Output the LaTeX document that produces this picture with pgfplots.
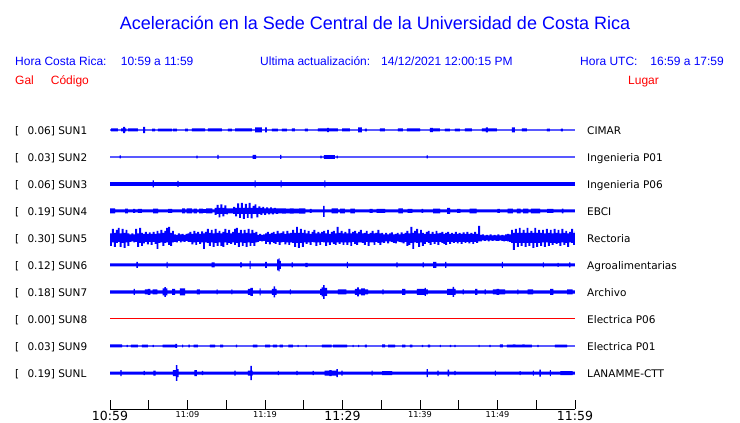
\documentclass[border=0pt]{standalone}
\usepackage{pgfplots}
\pgfplotsset{compat=1.18}
\usepackage{pgfplotstable}
\usepgfplotslibrary{fillbetween}
\usepackage{fontspec}
\setmainfont{Liberation Sans}
\newfontfamily\dejavu{DejaVu Sans}

% ---- trace envelopes: t = minutes after 10:59, a = half amplitude (px) ----
\pgfplotstableread{
t a
0 0.7
0.13 1.5
1.03 0.7
1.42 1.5
1.68 3.2
1.94 1.5
2.1 0.7
2.32 1.5
3.61 0.7
4.26 3.2
4.52 0.7
5.42 1.3
5.81 0.7
6.19 1.3
8.0 0.7
8.13 1.3
8.64 0.7
9.68 1.3
10.06 0.7
10.58 1.5
12.26 0.7
12.64 1.5
14.45 0.7
15.22 1.3
15.74 0.7
16.13 1.5
18.32 0.7
18.71 2.5
19.61 0.7
20.0 2.5
20.25 0.7
20.9 1.3
21.67 0.7
22.19 1.3
22.83 0.7
23.48 1.5
23.87 0.7
25.16 1.3
25.54 0.7
26.83 1.5
28.0 2.2
28.25 1.5
29.41 0.7
29.94 1.5
30.96 0.7
32.0 2.5
32.5 0.7
32.9 1.3
33.15 0.7
34.83 1.5
35.48 0.7
37.15 1.5
37.8 0.7
38.3 1.5
40.0 0.7
41.28 2.2
41.67 1.5
42.57 0.7
43.2 1.3
43.86 0.7
44.5 1.3
45.15 0.7
45.8 1.5
46.7 0.7
48.0 1.5
48.5 2.5
48.76 1.5
49.92 0.7
51.86 2.5
52.25 0.7
53.15 1.5
53.8 0.7
56.37 1.3
56.76 0.7
58.18 1.3
58.44 0.7
60 0.7
}\sunA

\pgfplotstableread{
t a
0 0.6
1.25 1.5
1.4 0.6
11.15 1.3
11.3 0.6
13.85 2
14.0 0.6
18.4 2
18.85 0.6
21.95 2
22.1 0.6
27.15 1.3
27.3 0.6
27.6 1.8
29.0 0.6
29.25 1.3
29.4 0.6
40.85 1.5
41.0 0.6
60 0.6
}\sunB

\pgfplotstableread{
t a
0 1.9
5.5 3.5
5.65 1.9
8.7 3.0
8.85 1.9
18.65 3.5
18.8 1.9
22.0 3.5
22.15 1.9
27.65 3.5
27.8 1.9
60 1.9
}\sunC

\pgfplotstableread{
t u d
0 2.5 2.5
0.65 1.5 1.5
1.94 2.3 2.3
2.32 1.5 1.5
2.97 2 2
3.23 1.5 1.5
3.6 2 2
4.1 1.5 1.5
5.55 2.3 2.3
6.2 1.5 1.5
7.5 2 2
8.0 1.5 1.5
9.3 2.5 2.5
9.7 1.5 1.5
9.9 2.5 2.5
10.6 1.5 1.5
10.8 2.3 2.3
11.2 1.5 1.5
11.5 2.3 2.3
12.0 1.8 1.8
12.4 2.5 2.5
13.2 1.5 1.5
13.5 3 4
13.75 6 3
14.0 3 6.5
14.25 6.5 3
14.5 3 5.5
14.75 5.5 3
15.0 2.5 3.5
15.2 2.5 2.5
15.9 4 3
16.15 3 5.5
16.4 7.5 3
16.65 3 7
16.9 8 3
17.15 3 8
17.4 7 3
17.65 3 7
17.9 8 3
18.15 3 7.5
18.4 5 3
18.65 6.5 3
18.9 3 6.5
19.15 4.5 3
19.4 3 4
19.65 4 2.5
19.9 2.5 4
20.15 3.5 2.5
20.4 2.5 3.5
20.65 3.5 2.5
20.9 2.5 3.5
21.15 3 2.5
21.4 2.5 3
21.7 2.5 2.5
22.2 2.7 2.7
22.7 2.3 2.3
23.2 2.7 2.7
23.7 2.3 2.3
24.4 2.7 2.7
25.2 1.5 1.5
25.8 2 2
26.0 1.5 1.5
27.5 5 6
27.7 1.5 1.5
28.6 2.5 2.5
29.4 1.5 1.5
29.7 2.3 2.3
30.3 1.5 1.5
31.0 2.3 2.3
31.6 1.5 1.5
33.5 2 2
33.9 1.5 1.5
34.4 2 2
35.5 1.5 1.5
37.2 2.5 2.5
37.8 1.5 1.5
38.4 2 2
39.0 1.5 1.5
40.2 2 2
40.4 1.5 1.5
41.7 2.3 2.3
42.6 1.5 1.5
43.5 3 3
43.9 1.5 1.5
44.8 2 2
45.2 1.5 1.5
46.4 2.3 2.3
47.3 1.5 1.5
50.0 2 2
50.3 1.5 1.5
51.3 2.3 2.3
52.0 1.5 1.5
52.5 2.3 2.3
53.0 1.5 1.5
53.3 2.3 2.3
54.0 1.5 1.5
54.3 2.3 2.3
55.5 1.5 1.5
56.4 2 2
57.2 1.5 1.5
58.3 2.3 2.3
58.5 1.5 1.5
60 1.5 1.5
}\sunD

\pgfplotstableread{
t u d
0 4.5 8
0.25 9 4.5
0.5 5 9
0.75 8 5
1 10 4
1.25 4.5 9
1.5 9 5
1.75 5 10
2 8 4.5
2.25 4.5 8
2.5 3.5 4
2.75 4.5 3.5
3 3.5 4.5
3.25 9 4
3.5 4.5 9
3.75 10 5
4 5 8
4.25 4 5.5
4.5 6 4
4.75 4 6.5
5 5.5 4
5.25 4 7
5.5 6 4
5.75 4 6
6 7 11
6.25 4.5 5
6.5 8 4.5
6.75 5 8
7 7 5
7.25 10 4.5
7.5 11 7
7.75 5 8
8 7 4.5
8.25 3.5 4
8.5 3 4.5
8.75 4.5 3
9 3.5 4.5
9.25 4 3.5
9.5 3 4
9.75 4 3
10 4.5 4
10.25 6 4
10.5 4 6.5
10.75 7 4.5
11 4.5 7
11.25 6 4
11.5 4 6
11.75 6.5 4.5
12 4.5 11
12.25 6 4.5
12.5 9 5
12.75 5 8
13 8 4.5
13.25 4.5 9
13.5 9 5
13.75 5 8
14 7 4.5
14.25 4.5 8
14.5 6 9
14.75 9 4.5
15 5 7
15.25 8 5
15.5 4.5 6
15.75 6 4.5
16 9 7
16.25 10 5
16.5 5 9
16.75 8 4.5
17 4.5 8
17.25 8 5
17.5 5 9
17.75 9 4.5
18 4.5 8
18.25 8 5
18.5 5 8
18.75 6 4.5
19 3 4
19.25 4 3
19.5 3 3.5
19.75 3.5 3
20 4.5 6
20.25 6 4
20.5 4 6.5
20.75 5 4
21 6 5
21.25 4 6
21.5 7 4
21.75 4.5 7
22 5 4.5
22.25 6.5 4
22.5 4 6.5
22.75 7 4.5
23 4.5 7
23.25 5 4.5
23.5 8 5
23.75 5 9
24 11 5
24.25 5 10
24.5 9 5
24.75 5 9
25 8 4.5
25.25 4.5 6
25.5 7 4.5
25.75 4 7
26 6 4
26.25 8 4.5
26.5 4.5 8
26.75 6 4.5
27 4.5 7
27.25 6 4
27.5 7 4.5
27.75 4.5 8
28 8 4.5
28.25 4 7
28.5 6 4.5
28.75 7 6
29 4.5 7
29.25 11 4.5
29.5 5 6
29.75 7 4.5
30 4.5 7
30.25 6 4.5
30.5 4.5 7
30.75 9 4.5
31 4.5 8
31.25 6 4
31.5 7 6
31.75 4.5 7
32 6 4.5
32.25 8 4.5
32.5 4.5 5
32.75 5 7
33 7 4
33.25 4 8
33.5 5 4.5
33.75 7 4.5
34 4.5 7
34.25 5 4
34.5 8 5
34.75 4.5 7
35 5 4.5
35.25 3.5 5
35.5 5 3.5
35.75 3.5 5.5
36 4.5 3.5
36.25 5.5 4
36.5 3.5 5
36.75 4 5.5
37 5 3.5
37.25 3.5 4
37.5 5.5 4.5
37.75 4 5.5
38 5 4
38.25 7 8
38.5 4.5 7
38.75 11 5
39 5 11
39.25 7 4.5
39.5 9 5
39.75 4.5 9
40 8 4.5
40.25 5 8
40.5 4 6
40.75 6 4
41 7 5
41.25 4 7
41.5 6 4
41.75 4 6
42 7 4
42.25 4.5 7
42.5 5 4
42.75 6 5
43 4 6
43.25 5 7
43.5 6 4
43.75 4 6
44 5 4
44.25 4 5
44.5 6 4
44.75 4 5.5
45 5 4
45.25 4 6
45.5 5.5 4
45.75 4 5
46 6 4
46.25 4 5.5
46.5 5 4
46.75 4 6
47 6 4
47.25 4 5
47.5 12 3.5
47.75 3 3.5
48 3.5 2.5
48.25 2.5 3
48.5 3 2.5
48.75 2.5 3.5
49 3.5 2.5
49.25 2.5 3
49.5 3 2.5
49.75 2.5 3
50 3.5 3
50.25 2.5 2.5
50.5 3 3
50.75 2.5 3.5
51 3.5 3
51.25 4 3.5
51.5 3.5 4
51.75 8 5
52 5 12
52.25 9 5
52.5 5 9
52.75 10 5
53 5 8
53.25 8 5
53.5 5 9
53.75 10 5
54 5 8
54.25 7 5
54.5 5 10
54.75 10 5
55 5 9
55.25 8 5
55.5 5 8
55.75 8 4.5
56 4.5 9
56.25 9 4.5
56.5 5 8
56.75 8 5
57 4.5 7
57.25 9 5
57.5 5 6
57.75 8 5
58 4.5 8
58.25 9 4.5
58.5 5 7
58.75 7 5
59 4.5 9
59.25 6 4.5
59.5 9 5
59.75 5 7
60 7 5
}\sunE

\pgfplotstableread{
t a
0 1.5
3.4 3
3.6 1.5
7.3 3
7.45 1.5
13.1 2.5
13.5 1.5
16.8 2.5
17.0 1.5
18.0 4
18.15 1.5
20.0 3
20.25 1.5
21.55 5.5
21.75 6.5
21.9 4
22.05 1.5
23.45 2.5
23.6 1.5
25.2 2.2
25.5 1.5
30.55 3
30.7 1.5
36.95 2.5
37.1 1.5
40.35 2.5
40.5 1.5
41.7 3
42.1 1.5
43.25 3
43.4 1.5
50.55 3
50.7 1.5
55.85 2.5
56.0 1.5
57.75 2
57.9 1.5
59.25 2.5
59.4 1.5
60 1.5
}\sunF

\pgfplotstableread{
t a
0 1.7
3.05 3
3.2 1.7
4.5 2.5
4.9 3
5.2 1.7
5.5 2.5
6.1 1.7
6.8 3.5
7.0 4.8
7.2 3.5
7.4 1.7
8.0 3
8.4 1.7
9.0 3.5
9.7 1.7
11.2 2.5
11.6 1.7
13.75 2.5
13.9 1.7
15.65 2.5
15.8 1.7
17.8 3
18.1 4
18.45 1.7
19.3 3.5
19.45 1.7
20.9 3
21.1 5.5
21.3 3
21.5 1.7
23.2 2.5
23.35 1.7
27.1 3
27.3 4.5
27.5 6.8
27.7 4
28.0 1.7
29.4 2.5
30.5 1.7
31.6 3
31.9 4.5
32.1 2.5
32.4 3.5
32.9 2.5
33.3 1.7
35.15 2.5
35.3 1.7
37.7 3
38.1 1.7
39.6 3
40.6 4
40.75 2.5
41.0 1.7
43.5 3
44.2 5
44.4 3
44.6 1.7
45.5 2.5
45.65 1.7
47.1 3
47.4 1.7
48.35 2.5
48.5 1.7
49.4 2.5
49.9 3
50.2 2.5
51.0 1.7
52.55 2.5
52.7 1.7
53.9 2.5
54.6 1.7
56.8 3
57.2 1.7
59.0 2.5
59.7 1.7
60 1.7
}\sunG

\pgfplotstableread{
t a
0 1.5
1.55 0.6
2.15 1.2
2.3 0.6
2.7 1.3
3.6 0.6
4.1 1.3
4.9 0.6
5.5 1.2
5.65 0.6
6.8 1.3
8.45 2
8.65 0.6
9.3 1.3
9.45 0.6
10.1 1.3
10.3 0.6
10.8 1.3
11.35 0.6
12.9 1.3
13.55 0.6
14.2 1.3
14.6 0.6
16.25 1.3
16.4 0.6
18.45 1.3
19.0 0.6
20.0 1.3
20.65 0.6
21.0 1.3
21.55 0.6
21.9 1.3
22.3 0.6
23.0 1.3
23.6 0.6
24.2 1.2
24.35 0.6
25.25 1.2
25.4 0.6
27.35 1.3
28.6 0.6
28.8 1.3
30.6 0.6
31.3 1.2
31.45 0.6
32.0 1.2
32.15 0.6
32.9 1.3
33.15 0.6
35.1 1.5
35.5 0.6
35.9 1.3
36.8 0.6
37.7 1.3
38.1 0.6
38.7 1.3
39.0 0.6
40.25 1.2
40.4 0.6
41.0 1.3
41.3 0.6
42.55 1.2
42.7 0.6
43.85 1.2
44.0 0.6
44.45 1.2
44.6 0.6
47.55 1.2
47.7 0.6
48.95 1.2
49.1 0.6
50.3 1.5
50.7 0.6
51.2 1.3
52.0 1.5
52.3 1.3
53.2 1.5
53.5 1.3
54.45 0.6
55.15 1.2
55.3 0.6
57.4 1.3
59.0 0.6
60 0.6
}\sunI

\pgfplotstableread{
t a
0 1.5
1.35 3
1.5 1.5
4.35 2.2
4.5 1.5
5.6 2.5
5.9 1.5
8.1 3
8.5 7.8
8.7 4
8.85 1.5
10.9 3
11.2 1.5
11.85 2.2
12.0 1.5
16.05 2.5
16.2 1.5
17.8 2.5
18.1 7.2
18.3 2.5
18.4 1.5
21.65 2.2
21.8 1.5
24.05 2.2
24.2 1.5
26.15 2.2
26.3 1.5
27.7 2.5
28.3 3
28.6 2.5
29.2 4
29.4 1.5
29.85 2.5
30.0 1.5
33.75 2.5
33.9 1.5
35.1 2
36.4 1.5
40.85 4
41.0 1.5
42.25 2.5
42.4 1.5
43.55 3.3
43.75 1.5
44.45 2.2
44.6 1.5
49.65 2.5
49.8 1.5
52.85 2
53.0 1.5
54.55 2.5
54.7 1.5
55.4 3.5
55.6 1.5
56.75 3
56.9 1.5
58.1 2
59.7 1.5
60 1.5
}\sunL

\newcommand{\trace}[3]{%
\addplot[name path=u#3, draw=none, const plot] table[x=t, y expr={#2-\thisrow{a}}] {#1};
\addplot[name path=l#3, draw=none, const plot] table[x=t, y expr={#2+\thisrow{a}}] {#1};
\addplot[fill=blue, draw=none] fill between[of=u#3 and l#3];}

\newcommand{\lab}{\dejavu\fontsize{10.5bp}{12bp}\selectfont}
\newcommand{\hdr}{\fontsize{12bp}{14bp}\selectfont}

\begin{document}
\begin{tikzpicture}
\path (0,0) rectangle (740bp,423bp);

% title and header
\node[anchor=base, inner sep=0pt, text=blue, font=\fontsize{18bp}{20bp}\selectfont] at (375bp,393.7bp) {Aceleración en la Sede Central de la Universidad de Costa Rica};
\begin{scope}[every node/.style={anchor=base west, inner sep=0pt, font=\hdr, text=blue}]
\node at (15bp,357bp) {Hora Costa Rica:};
\node at (120.7bp,357bp) {10:59 a 11:59};
\node at (260bp,357bp) {Ultima actualización:};
\node at (381bp,357bp) {14/12/2021 12:00:15 PM};
\node at (580bp,357bp) {Hora UTC:};
\node[anchor=base east] at (724bp,357bp) {16:59 a 17:59};
\node[text=red] at (15bp,338bp) {Gal};
\node[text=red] at (50.7bp,338bp) {Código};
\node[text=red] at (628bp,338bp) {Lugar};
\end{scope}

% station labels
\begin{scope}[every node/.style={anchor=base west, inner sep=0pt, font=\lab, text=black}]
\node at (15bp,288.7bp) {[}; \node at (27.3bp,288.7bp) {0.06] SUN1}; \node at (587bp,288.7bp) {CIMAR};
\node at (15bp,261.7bp) {[}; \node at (27.3bp,261.7bp) {0.03] SUN2}; \node at (587bp,261.7bp) {Ingenieria P01};
\node at (15bp,234.7bp) {[}; \node at (27.3bp,234.7bp) {0.06] SUN3}; \node at (587bp,234.7bp) {Ingenieria P06};
\node at (15bp,207.7bp) {[}; \node at (27.3bp,207.7bp) {0.19] SUN4}; \node at (587bp,207.7bp) {EBCI};
\node at (15bp,180.7bp) {[}; \node at (27.3bp,180.7bp) {0.30] SUN5}; \node at (587bp,180.7bp) {Rectoria};
\node at (15bp,153.7bp) {[}; \node at (27.3bp,153.7bp) {0.12] SUN6}; \node at (587bp,153.7bp) {Agroalimentarias};
\node at (15bp,126.7bp) {[}; \node at (27.3bp,126.7bp) {0.18] SUN7}; \node at (587bp,126.7bp) {Archivo};
\node at (15bp,99.7bp) {[}; \node at (27.3bp,99.7bp) {0.00] SUN8}; \node at (587bp,99.7bp) {Electrica P06};
\node at (15bp,72.7bp) {[}; \node at (27.3bp,72.7bp) {0.03] SUN9}; \node at (587bp,72.7bp) {Electrica P01};
\node at (15bp,45.7bp) {[}; \node at (27.3bp,45.7bp) {0.19] SUNL}; \node at (587bp,45.7bp) {LANAMME-CTT};
\end{scope}

% traces
\begin{axis}[at={(110bp,313bp)}, anchor=north west, scale only axis,
  width=465bp, height=285bp, xmin=0, xmax=60, ymin=110, ymax=395,
  y dir=reverse, hide axis, clip=false]
\trace{\sunA}{130}{A}
\trace{\sunB}{157}{B}
\trace{\sunC}{184}{C}
\addplot[name path=uD, draw=none, const plot] table[x=t, y expr={211-\thisrow{u}}] {\sunD};
\addplot[name path=lD, draw=none, const plot] table[x=t, y expr={211+\thisrow{d}}] {\sunD};
\addplot[fill=blue, draw=none] fill between[of=uD and lD];
\addplot[name path=uE, draw=none, const plot] table[x=t, y expr={238-\thisrow{u}}] {\sunE};
\addplot[name path=lE, draw=none, const plot] table[x=t, y expr={238+\thisrow{d}}] {\sunE};
\addplot[fill=blue, draw=none] fill between[of=uE and lE];
\trace{\sunF}{265}{F}
\trace{\sunG}{292}{G}
\addplot[red, line width=1bp] coordinates {(0,319) (60,319)};
\trace{\sunI}{346}{I}
\trace{\sunL}{373}{L}
\end{axis}

% time axis
\begin{axis}[at={(110bp,14bp)}, anchor=south west, scale only axis,
  width=465bp, height=10bp, xmin=0, xmax=60, ymin=0, ymax=1,
  axis x line=bottom, axis y line=none,
  x axis line style={-, black, line width=1bp},
  xtick={0,10,20,30,40,50,60},
  minor xtick={5,15,25,35,45,55},
  xticklabels={{\fontsize{12.5bp}{13bp}\selectfont 10:59},
    {\fontsize{8.2bp}{9bp}\selectfont 11:09},
    {\fontsize{8.2bp}{9bp}\selectfont 11:19},
    {\fontsize{12.5bp}{13bp}\selectfont 11:29},
    {\fontsize{8.2bp}{9bp}\selectfont 11:39},
    {\fontsize{8.2bp}{9bp}\selectfont 11:49},
    {\fontsize{12.5bp}{13bp}\selectfont 11:59}},
  tick align=inside, major tick length=9bp, minor tick length=9bp,
  every tick/.style={black, line width=0.9bp},
  xticklabel style={inner sep=0pt, anchor=north, font=\dejavu, text=black},
  xticklabel shift=2bp]
\addplot[draw=none] coordinates {(0,0) (60,0)};
\end{axis}
\end{tikzpicture}
\end{document}
